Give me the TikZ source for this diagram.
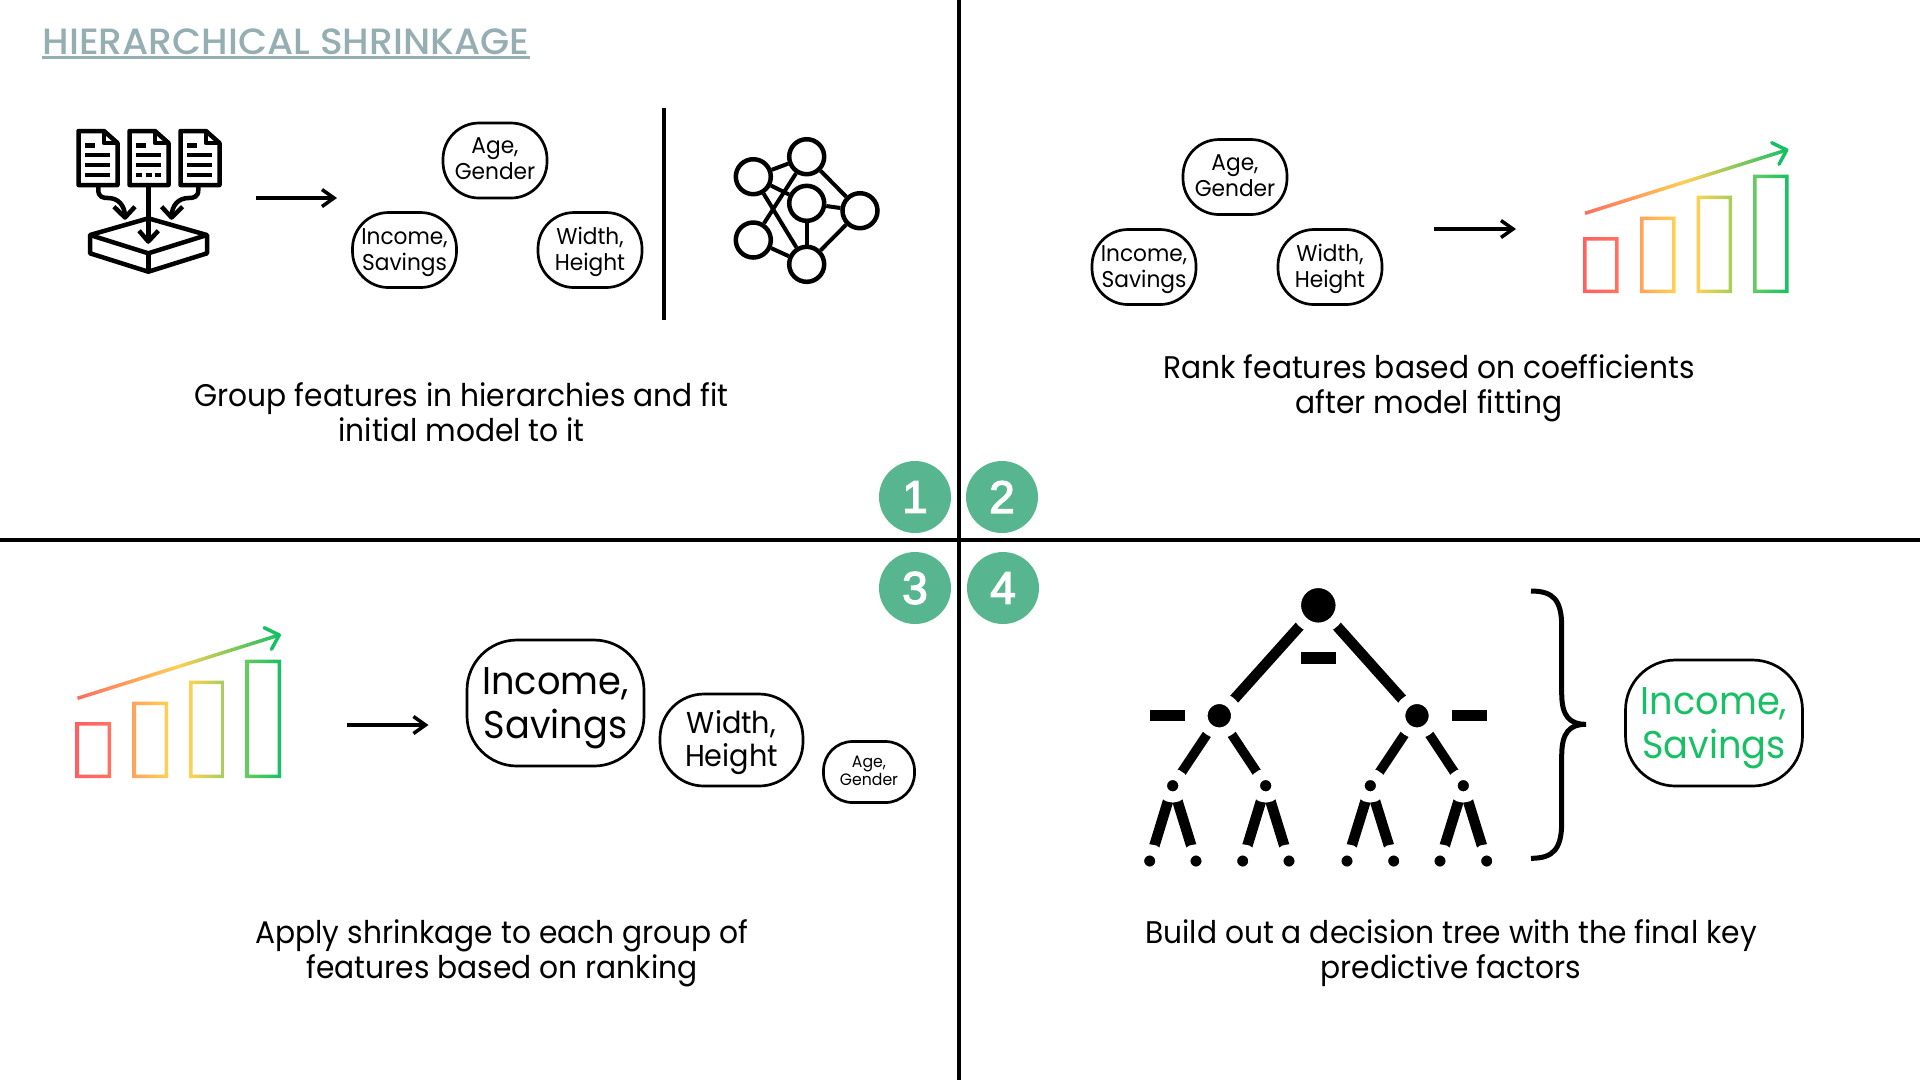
\documentclass[tikz,border=0pt]{standalone}
\usepackage{fontspec}
\setmainfont[FakeStretch=0.95]{Poppins}
\newfontfamily\titlefont[FakeStretch=1.03]{Poppins Medium}
\newfontfamily\digitfont[FakeBold=3]{Liberation Sans}
\usetikzlibrary{arrows.meta,backgrounds}
\definecolor{titlegrey}{HTML}{94AEB1}
\definecolor{badgegreen}{HTML}{57B58F}
\definecolor{keygreen}{HTML}{17C064}
\definecolor{barred}{HTML}{FF5F60}
\definecolor{barorange}{HTML}{FFA35C}
\definecolor{baryellow}{HTML}{FFD053}
\definecolor{barolive}{HTML}{A6CE5B}
\definecolor{barlime}{HTML}{66CB60}
\tikzset{
  rule/.style={line width=.4mm},
  longarrow/.style={line width=.4mm,-{Straight Barb[length=1.2mm,width=1.7mm,line width=.35mm]}},
  pill/.style={draw,line width=.27mm,align=center,inner sep=0pt,text depth=0pt,minimum width=10.4mm,minimum height=7.5mm,rounded corners=3.6mm,font=\fontsize{6.5}{7.4}\selectfont},
  midpill/.style={pill,minimum width=14.3mm,minimum height=9.2mm,rounded corners=4.4mm,font=\fontsize{8.6}{9.4}\selectfont},
  bigpill/.style={pill,minimum width=17.7mm,minimum height=12.6mm,rounded corners=5mm,font=\fontsize{11}{12.5}\selectfont},
  smallpill/.style={pill,minimum width=9.1mm,minimum height=6.1mm,rounded corners=2.9mm,font=\fontsize{4.7}{5.4}\selectfont},
  caption/.style={align=center,inner sep=0pt,font=\fontsize{8.9}{9.96}\selectfont},
  badge/.style={circle,fill=badgegreen,text=white,inner sep=0pt,minimum size=7.2mm,font=\digitfont\fontsize{13}{13}\selectfont},
  icon/.style={line width=.45mm,line join=round},
  netnode/.style={circle,draw,line width=.45mm,fill=white,inner sep=0pt,minimum size=3.5mm},
  netedge/.style={line width=.4mm},
  treenode/.style={circle,fill=black,draw=white,line width=1.1mm,inner sep=0pt,outer sep=0pt,minimum size=#1},
  treeedge/.style={line width=#1},
  treedash/.style={fill=black,inner sep=0pt,minimum width=3.5mm,minimum height=1.14mm},
}
\begin{document}
\begin{tikzpicture}[x=.1mm,y=-.1mm]
\useasboundingbox (0,0) rectangle (1920,1080);
% quadrant rules
\coordinate (ruletop) at (959,0);
\coordinate (rulebottom) at (959,1080);
\coordinate (ruleleft) at (0,540);
\coordinate (ruleright) at (1920,540);
\draw[rule] (ruletop)--(rulebottom);
\draw[rule] (ruleleft)--(ruleright);
% title
\node[anchor=south west,inner sep=0pt,text=titlegrey,font=\titlefont\fontsize{10.4}{10.4}\selectfont] (title) at (42,55) {HIERARCHICAL SHRINKAGE};
\draw[titlegrey,line width=.3mm] ([yshift=-.25mm]title.south west)--([yshift=-.25mm]title.south east);
% badges
\node[badge] (one) at (915,497) {1};
\node[badge] (two) at (1002,497) {2};
\node[badge] (three) at (915,588) {3};
\node[badge] (four) at (1003,588) {4};
% documents going into a box
\foreach \dx in {0,51,102}{
  \begin{scope}[shift={(\dx,0)}]
  \draw[icon] (78.5,131)--(104,131)--(117.5,143)--(117.5,185)--(78.5,185)--cycle;
  \draw[icon] (104,131)--(104,143)--(117.5,143);
  \draw[icon] (85,145.7)--(95,145.7);
  \draw[icon] (85,155)--(110,155);
  \draw[icon] (85,165)--(110,165);
  \end{scope}
}
\draw[icon] (85,175)--(110,175);
\draw[icon] (187,175)--(212,175);
\draw[icon,dash pattern=on .6mm off .35mm] (136,175)--(161,175);
\draw[icon] (98.3,186)--(98.3,190) .. controls (98.3,197) and (103,198) .. (108,198) .. controls (118,198) and (125,205) .. (125,217);
\draw[icon] (114,206.7)--(125,217.5)--(135,206.7);
\draw[icon] (198.3,186)--(198.3,190) .. controls (198.3,197) and (193.6,198) .. (188.6,198) .. controls (178.6,198) and (171.6,205) .. (171.6,217);
\draw[icon] (182.6,206.7)--(171.6,217.5)--(161.6,206.7);
\draw[icon] (148.3,186)--(148.3,241.5);
\draw[icon] (139,230.7)--(148.3,241.5)--(158.3,230.7);
\draw[icon] (90,235)--(148.3,218.3)--(207,235)--(148.3,253.3)--cycle;
\draw[icon] (90,235)--(90,253.3)--(148.3,271.7)--(207,253.3)--(207,235);
\draw[icon] (148.3,253.3)--(148.3,271.7);
% first panel
\coordinate (arrowastart) at (256,198);
\coordinate (arrowaend) at (337,198);
\draw[longarrow] (arrowastart)--(arrowaend);
\node[pill,text depth=.3mm] (agea) at (495,160.5) {Age,\\Gender};
\node[pill] (incomea) at (404.5,250) {Income,\\Savings};
\node[pill,text depth=.2mm] (widtha) at (590,250) {Width,\\Height};
\coordinate (dividertop) at (664,108);
\coordinate (dividerbottom) at (664,320);
\draw[rule] (dividertop)--(dividerbottom);
\node[netnode] (neta) at (753.3,176.7) {};
\node[netnode] (netb) at (806.7,156.7) {};
\node[netnode] (netc) at (806.7,203.3) {};
\node[netnode] (netd) at (860,210.7) {};
\node[netnode] (nete) at (753.3,240) {};
\node[netnode] (netf) at (806.7,264.3) {};
\foreach \from/\to in {neta/netb,neta/netc,neta/netf,nete/netb,nete/netf,netb/netd,netc/netd,netc/netf,netf/netd}
  \draw[netedge] (\from)--(\to);
\node[caption] (captiona) at (461.6,412) {Group features in hierarchies and fit\\initial model to it};
% second panel
\node[pill,text depth=.3mm] (ageb) at (1235,177) {Age,\\Gender};
\node[pill] (incomeb) at (1144,267) {Income,\\Savings};
\node[pill,text depth=.2mm] (widthb) at (1330,267) {Width,\\Height};
\coordinate (arrowbstart) at (1434,229);
\coordinate (arrowbend) at (1516,229);
\draw[longarrow] (arrowbstart)--(arrowbend);
% rising bars, used twice
\foreach \ox/\oy in {0/0,-1507.5/485}{
  \begin{scope}[shift={(\ox,\oy)}]
  \shade[even odd rule,left color=barred,right color=barred!70!barorange] (1583,237) rectangle (1618.5,293) (1586.5,240.5) rectangle (1615,289.5);
  \shade[even odd rule,left color=barorange,right color=baryellow] (1640,216.5) rectangle (1675.5,293) (1643.5,220) rectangle (1672,289.5);
  \shade[even odd rule,left color=baryellow,right color=barolive] (1696.5,195.5) rectangle (1732,293) (1700,199) rectangle (1728.5,289.5);
  \shade[even odd rule,left color=barlime,right color=keygreen] (1753,174.5) rectangle (1788.5,293) (1756.5,178) rectangle (1785,289.5);
  \shade[left color=barred!80!barorange,right color=keygreen,middle color=baryellow] (1584.5,211.6)--(1786.2,148.3)--(1787.2,151.7)--(1585.5,215)--cycle;
  \draw[keygreen,line width=.35mm,line cap=round,line join=round] (1771.7,142.7)--(1786.7,150)--(1779,164.3);
  \end{scope}
}
\node[caption] (captionb) at (1429,388.5) {Rank features based on coefficients\\after model fitting};
% third panel
\coordinate (arrowcstart) at (346.5,725);
\coordinate (arrowcend) at (428.5,725);
\draw[longarrow] (arrowcstart)--(arrowcend);
\node[bigpill] (incomec) at (555.5,703) {Income,\\Savings};
\node[midpill,text depth=.4mm] (widthc) at (731.5,740) {Width,\\Height};
\node[smallpill,text depth=.25mm] (agec) at (869,772) {Age,\\Gender};
\node[caption] (captionc) at (502,953) {Apply shrinkage to each group of\\features based on ranking};
% fourth panel: the tree
\node[treenode=4.56mm] (root) at (1318.3,605.3) {};
\node[treenode=3.44mm] (left) at (1219.3,715.7) {};
\node[treenode=3.44mm] (right) at (1417,715.7) {};
\node[treenode=2.26mm] (la) at (1172.7,785.7) {};
\node[treenode=2.26mm] (lb) at (1265.7,785.7) {};
\node[treenode=2.26mm] (ra) at (1370.3,785.7) {};
\node[treenode=2.26mm] (rb) at (1463.3,785.7) {};
\node[treenode=2.24mm] (laa) at (1149.7,861) {};
\node[treenode=2.24mm] (lab) at (1196,861) {};
\node[treenode=2.24mm] (lba) at (1242.7,861) {};
\node[treenode=2.24mm] (lbb) at (1289,861) {};
\node[treenode=2.24mm] (raa) at (1347,861) {};
\node[treenode=2.24mm] (rab) at (1393.7,861) {};
\node[treenode=2.24mm] (rba) at (1440,861) {};
\node[treenode=2.24mm] (rbb) at (1486.7,861) {};
\begin{scope}[on background layer]
\foreach \from/\to in {root/left,root/right}
  \draw[treeedge=1.05mm] (\from)--(\to);
\foreach \from/\to in {left/la,left/lb,right/ra,right/rb}
  \draw[treeedge=.95mm] (\from)--(\to);
\foreach \from/\to in {la/laa,la/lab,lb/lba,lb/lbb,ra/raa,ra/rab,rb/rba,rb/rbb}
  \draw[treeedge=1.05mm] (\from)--(\to);
\end{scope}
\node[treedash] (dashroot) at (1318.2,658) {};
\node[treedash] (dashleft) at (1167.2,715.7) {};
\node[treedash] (dashright) at (1469.5,715.7) {};
\draw[line width=.5mm] (1531,591) .. controls (1553.3,591) and (1561.7,600) .. (1561.7,626.7)--(1561.7,693.3) .. controls (1561.7,716.7) and (1570,724.3) .. (1586,724.3) .. controls (1570,724.3) and (1561.7,732) .. (1561.7,755.7)--(1561.7,822) .. controls (1561.7,849) and (1553.3,858.3) .. (1531,858.3);
\node[bigpill,text=keygreen,draw=black] (incomed) at (1714,723) {Income,\\Savings};
\node[caption] (captiond) at (1451,953) {Build out a decision tree with the final key\\predictive factors};
\end{tikzpicture}
\end{document}
